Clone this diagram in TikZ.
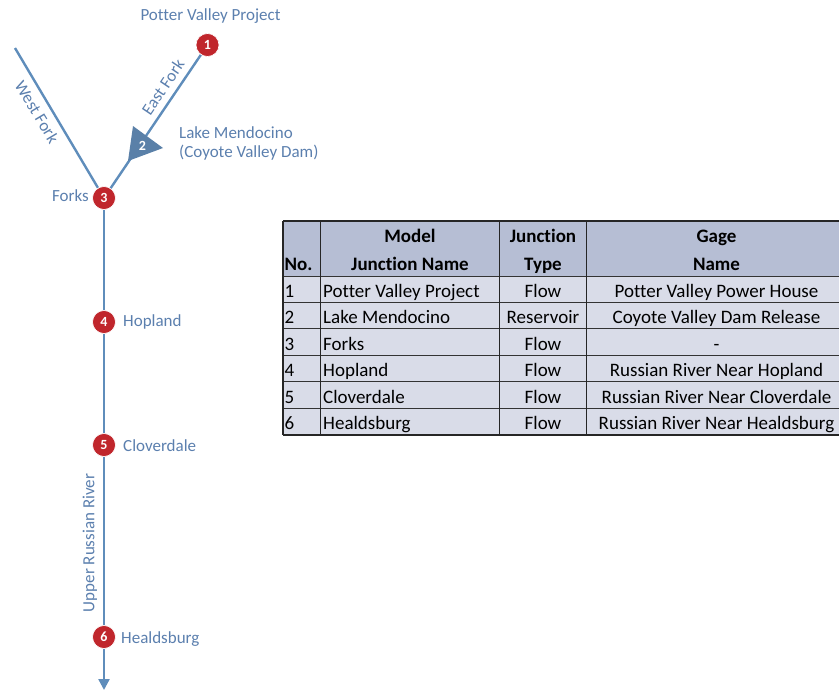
\documentclass[tikz,border=0pt]{standalone}
\usepackage{fontspec}
\setmainfont{Carlito}[Ligatures=CommonOff]
\usetikzlibrary{arrows.meta}
\definecolor{river}{HTML}{5F8DBB}
\definecolor{lbl}{HTML}{5B7FAE}
\definecolor{jred}{HTML}{C0262C}
\definecolor{tri}{HTML}{5A80A8}
\definecolor{hdr}{HTML}{B6BED4}
\definecolor{rowc}{HTML}{D9DCE8}
\begin{document}
\begin{tikzpicture}[x=1pt,y=-1pt,
  riverline/.style={draw=river,line width=2.4pt},
  junc/.style={circle,fill=jred,draw=white,line width=0.6pt,minimum size=23pt,inner sep=0pt,text=white,font=\fontsize{14}{14}\selectfont\bfseries},
  lab/.style={text=lbl,font=\fontsize{17}{19}\selectfont,inner sep=0pt},
  cell/.style={font=\fontsize{19}{21}\selectfont,inner sep=0pt,text=black,anchor=base},
  hcell/.style={font=\fontsize{19}{21}\selectfont\bfseries,inner sep=0pt,text=black,anchor=base}]
\useasboundingbox (0,0) rectangle (839,689);
% junctions
\node[junc] (j1) at (207.5,45) {1};
\node[junc] (j3) at (104,198) {3};
\node[junc] (j4) at (104,322) {4};
\node[junc] (j5) at (104,445) {5};
\node[junc] (j6) at (104,637) {6};
\coordinate (wf) at (15,48);
\coordinate (outlet) at (104,689);
% rivers
\path[riverline] (wf) -- (j3);
\path[riverline] (j1) -- (j3);
\path[riverline] (j3) -- (j4);
\path[riverline] (j4) -- (j5);
\path[riverline] (j5) -- (j6);
\path[riverline,-{Triangle[width=11pt,length=11pt]},shorten >=-1pt] (j6) -- (outlet);
% reservoir triangle
\coordinate (t1) at (133,126);
\coordinate (t2) at (163,148);
\coordinate (t3) at (128,161);
\path[fill=tri] (t1) -- (t2) -- (t3) -- cycle;
\node[text=white,font=\fontsize{14}{14}\selectfont\bfseries,inner sep=0pt] (j2) at (142.5,146) {2};
% redraw junctions on top of the lines
\node[junc] at (j1) {1};
\node[junc] at (j3) {3};
\node[junc] at (j4) {4};
\node[junc] at (j5) {5};
\node[junc] at (j6) {6};
% labels
\node[lab,anchor=base] (l1) at (210.5,20.7) {Potter Valley Project};
\node[lab,anchor=base west] (l2a) at (179,138.3) {Lake Mendocino};
\node[lab,anchor=base west] (l2b) at (179,157.3) {(Coyote Valley Dam)};
\node[lab,anchor=base east] (l3) at (89,201.7) {Forks};
\node[lab,anchor=base west] (l4) at (123,326.7) {Hopland};
\node[lab,anchor=base west] (l5) at (123,451.7) {Cloverdale};
\node[lab,anchor=base west] (l6) at (121,643.3) {Healdsburg};
\node[lab,rotate=56] (ef) at (163,87) {East Fork};
\node[lab,rotate=-59] (wfl) at (37,112) {West Fork};
\node[lab,rotate=90] (urr) at (90,543) {Upper Russian River};
% table
\fill[hdr] (283,221) rectangle (840,276);
\fill[rowc] (283,276) rectangle (840,435);
\foreach \y in {276,302.7,328.3,355,381.7,408.3}
  \draw[line width=1pt,black!80] (283,\y) -- (840,\y);
\draw[line width=1.3pt,black!85] (283,221) -- (840,221);
\draw[line width=1.3pt,black!85] (283,435) -- (840,435);
\foreach \x in {283,320.7,499.3,586.7}
  \draw[line width=1.3pt,black!85] (\x,221) -- (\x,435);
% header
\node[hcell,anchor=base west] (h1) at (284.5,270) {No.};
\node[hcell] (h2a) at (410,242.7) {Model};
\node[hcell] (h2b) at (410,270) {Junction Name};
\node[hcell] (h3a) at (543,242.7) {Junction};
\node[hcell] (h3b) at (543,270) {Type};
\node[hcell] (h4a) at (716.5,242.7) {Gage};
\node[hcell] (h4b) at (716.5,270) {Name};
% rows
\foreach \n/\name/\typ/\gage [count=\i from 0] in {
  1/Potter Valley Project/Flow/Potter Valley Power House,
  2/Lake Mendocino/Reservoir/Coyote Valley Dam Release,
  3/Forks/Flow/-,
  4/Hopland/Flow/Russian River Near Hopland,
  5/Cloverdale/Flow/Russian River Near Cloverdale,
  6/Healdsburg/Flow/Russian River Near Healdsburg}{
  \pgfmathsetmacro{\yy}{297.3+26.5*\i}
  \node[cell,anchor=base west] (n\n) at (284.5,\yy) {\n};
  \node[cell,anchor=base west] (m\n) at (323,\yy) {\name};
  \node[cell] (t\n) at (543,\yy) {\typ};
  \node[cell] (g\n) at (716.5,\yy) {\gage};
}
\end{tikzpicture}
\end{document}
